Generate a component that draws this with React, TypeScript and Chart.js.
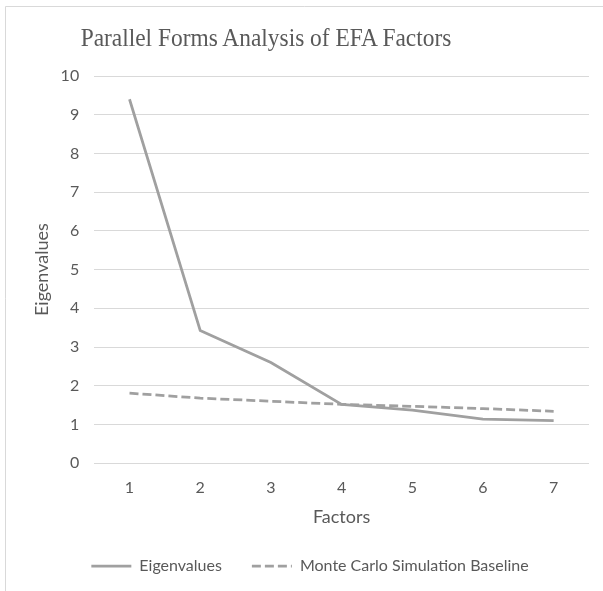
import React, { useEffect, useRef } from "react";
import { Chart, registerables } from "chart.js";

Chart.register(...registerables);

const chartTitle = "Parallel Forms Analysis of EFA Factors";
const factors = ["1", "2", "3", "4", "5", "6", "7"];
const eigenvalues = [9.4, 3.43, 2.6, 1.52, 1.37, 1.14, 1.1];
const monteCarlo = [1.81, 1.68, 1.6, 1.52, 1.47, 1.41, 1.34];
const yTicks = [0, 1, 2, 3, 4, 5, 6, 7, 8, 9, 10];

const LINE = "#a0a0a0";
const TEXT = "#595959";
const GRID = "#d9d9d9";
const SANS = "Lato, 'Open Sans', sans-serif";
const DASH = [9, 4];

const borderPlugin = {
  id: "frameBorder",
  beforeDraw(chart: any) {
    const ctx = chart.ctx;
    ctx.save();
    ctx.fillStyle = "#ffffff";
    ctx.fillRect(0, 0, chart.width, chart.height);
    ctx.strokeStyle = GRID;
    ctx.lineWidth = 1;
    ctx.beginPath();
    ctx.moveTo(5.5, chart.height);
    ctx.lineTo(5.5, 6.5);
    ctx.lineTo(chart.width, 6.5);
    ctx.stroke();
    ctx.restore();
  },
};

export default function App() {
  const ref = useRef<HTMLCanvasElement>(null);
  useEffect(() => {
    if (!ref.current) return;
    const chart = new Chart(ref.current, {
      type: "line",
      data: {
        labels: factors,
        datasets: [
          {
            label: "Eigenvalues",
            data: eigenvalues,
            borderColor: LINE,
            backgroundColor: LINE,
            borderWidth: 2.75,
            pointRadius: 0,
            tension: 0,
          },
          {
            label: "Monte Carlo Simulation Baseline",
            data: monteCarlo,
            borderColor: LINE,
            backgroundColor: LINE,
            borderWidth: 2.75,
            borderDash: DASH,
            pointRadius: 0,
            tension: 0,
          },
        ],
      },
      options: {
        responsive: false,
        animation: false,
        devicePixelRatio: 1,
        layout: { padding: { top: 76, left: 31, right: 14, bottom: 7 } },
        plugins: {
          title: { display: false },
          legend: {
            position: "bottom",
            labels: {
              usePointStyle: true,
              pointStyle: "line",
              pointStyleWidth: 40,
              color: TEXT,
              font: { family: SANS, size: 16 },
              padding: 30,
              generateLabels(c: any) {
                const items = Chart.defaults.plugins.legend.labels.generateLabels(c);
                return items.map((it: any) => {
                  const ds: any = c.data.datasets[it.datasetIndex];
                  return { ...it, lineDash: ds.borderDash || [], lineWidth: 2.75, strokeStyle: LINE };
                });
              },
            },
          },
          tooltip: { enabled: false },
        },
        scales: {
          x: {
            offset: true,
            grid: { display: false },
            border: { display: false },
            ticks: { color: TEXT, font: { family: SANS, size: 16 }, padding: 7 },
            title: {
              display: true,
              text: "Factors",
              color: TEXT,
              font: { family: SANS, size: 18 },
              padding: { top: 2, bottom: 0 },
            },
          },
          y: {
            min: 0,
            max: 10,
            afterBuildTicks(axis: any) {
              axis.ticks = yTicks.map((v) => ({ value: v }));
            },
            grid: { color: GRID, lineWidth: 1, drawTicks: false },
            border: { display: false },
            ticks: { color: TEXT, font: { family: SANS, size: 16 }, padding: 15 },
            title: {
              display: true,
              text: "Eigenvalues",
              color: TEXT,
              font: { family: SANS, size: 18 },
              padding: { top: 0, bottom: -7 },
            },
          },
        },
      },
      plugins: [borderPlugin],
    });
    return () => chart.destroy();
  }, []);
  return (
    <div style={{ position: "fixed", left: 0, top: 0, width: 603, height: 591, background: "#fff" }}>
      <canvas ref={ref} width={603} height={591} style={{ display: "block" }} />
      <div
        style={{
          position: "absolute",
          left: 0,
          top: 25,
          width: 532,
          textAlign: "center",
          fontFamily: "'Liberation Serif', 'Times New Roman', serif",
          fontSize: 26,
          lineHeight: "26px",
          color: TEXT,
          whiteSpace: "nowrap",
          transform: "scaleX(0.9)",
          transformOrigin: "center",
        }}
      >
        {chartTitle}
      </div>
    </div>
  );
}
